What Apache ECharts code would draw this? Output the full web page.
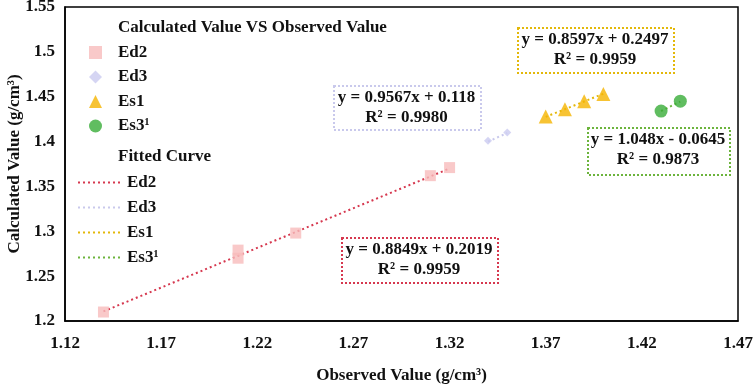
<!DOCTYPE html>
<html>
<head>
<meta charset="utf-8">
<script src="https://cdn.jsdelivr.net/npm/echarts@6/dist/echarts.min.js"></script>
<style>
  html, body { margin: 0; padding: 0; background: #fff; }
  #chart { width: 754px; height: 386px; }
</style>
</head>
<body>
<div id="chart"></div>
<script>
// observed / calculated pairs
const ed2Points = [[1.14, 1.21], [1.21, 1.27], [1.21, 1.279], [1.24, 1.298], [1.31, 1.362], [1.32, 1.371]];
const ed3Points = [[1.34, 1.401], [1.35, 1.41]];
const es1Points = [[1.37, 1.428], [1.38, 1.436], [1.39, 1.445], [1.40, 1.453]];
const es3Points = [[1.43, 1.434], [1.44, 1.445]];

// fitted line end points
const ed2Fit = [[1.14, 1.2107], [1.32, 1.370]];
const ed3Fit = [[1.34, 1.4000], [1.35, 1.4095]];
const es1Fit = [[1.37, 1.4275], [1.40, 1.4533]];
const es3Fit = [[1.43, 1.4341], [1.44, 1.4446]];

const seriesNames = ['Ed2', 'Ed3', 'Es1', 'Es3¹'];
const equations = [
    ['y = 0.8849x + 0.2019', 'R² = 0.9959'],
    ['y = 0.9567x + 0.118', 'R² = 0.9980'],
    ['y = 0.8597x + 0.2497', 'R² = 0.9959'],
    ['y = 1.048x - 0.0645', 'R² = 0.9873']
];

const serif = '"Liberation Serif", "Times New Roman", serif';
const markerColors = ['#f7bcbc', '#cacaf0', '#f5b400', '#38ac38'];
const lineColors = ['#d6384f', '#c9c9ec', '#e3b80a', '#6cb43c'];
const symbols = ['rect', 'diamond', 'triangle', 'circle'];
const symbolSizes = [11, 8, 14, 13];

const pointSets = [ed2Points, ed3Points, es1Points, es3Points];
const fitSets = [ed2Fit, ed3Fit, es1Fit, es3Fit];

// boxes for the equation labels: [left, top, width, height]
const boxes = [
    [341, 237, 156, 45],
    [333, 85, 147, 44],
    [517, 27, 156, 45],
    [587, 127, 142, 47]
];

const series = [];
pointSets.forEach((pts, i) => {
    series.push({
        name: seriesNames[i],
        type: 'scatter',
        symbol: symbols[i],
        symbolSize: symbolSizes[i],
        itemStyle: { color: markerColors[i] },
        data: pts,
        z: 3
    });
});
fitSets.forEach((pts, i) => {
    series.push({
        name: seriesNames[i] + ' fit',
        type: 'line',
        symbol: 'none',
        lineStyle: { color: lineColors[i], width: 2, type: [2, 3] },
        itemStyle: { color: lineColors[i] },
        data: pts,
        z: 2
    });
});

const graphics = [];
boxes.forEach((b, i) => {
    graphics.push({
        type: 'rect',
        left: b[0], top: b[1],
        shape: { width: b[2], height: b[3] },
        style: { fill: '#fff', stroke: lineColors[i], lineWidth: 2, lineDash: [2, 2] },
        z: 10
    });
    graphics.push({
        type: 'text',
        left: b[0], top: b[1] + 3,
        style: {
            text: equations[i].join('\n'),
            width: b[2],
            align: 'center',
            x: b[2] / 2,
            textAlign: 'center',
            font: 'bold 17px ' + serif,
            lineHeight: 20,
            fill: '#111'
        },
        z: 11
    });
});
graphics.push({
    type: 'text', left: 118, top: 19,
    style: { text: 'Calculated Value VS Observed Value', font: 'bold 17px ' + serif, fill: '#111' }
});
graphics.push({
    type: 'text', left: 118, top: 148,
    style: { text: 'Fitted Curve', font: 'bold 17px ' + serif, fill: '#111' }
});

const option = {
    animation: false,
    grid: {
        left: 65, right: 16, top: 7, bottom: 65,
        outerBoundsMode: 'none',
        show: true, borderColor: '#000', borderWidth: 1.5, backgroundColor: '#fff'
    },
    legend: [
        {
            data: seriesNames,
            orient: 'vertical',
            left: 84, top: 39,
            itemWidth: 13, itemHeight: 13, itemGap: 7.5,
            textStyle: { fontFamily: serif, fontWeight: 'bold', fontSize: 17, color: '#111', padding: [0, 0, 0, 11] }
        },
        {
            data: seriesNames.map(n => n + ' fit'),
            orient: 'vertical',
            left: 72, top: 169,
            itemWidth: 44, itemHeight: 12, itemGap: 8,
            itemStyle: { opacity: 0 },
            formatter: name => name.replace(' fit', ''),
            textStyle: { fontFamily: serif, fontWeight: 'bold', fontSize: 17, color: '#111' }
        }
    ],
    xAxis: {
        type: 'value',
        min: 1.12, max: 1.47, interval: 0.05,
        name: 'Observed Value (g/cm³)',
        nameLocation: 'middle', nameGap: 46,
        nameMoveOverlap: false,
        nameTextStyle: { fontFamily: serif, fontWeight: 'bold', fontSize: 17, color: '#111' },
        axisLine: { show: true, lineStyle: { color: '#000', width: 1.5 } },
        axisTick: { show: false },
        splitLine: { show: false },
        axisLabel: {
            margin: 14,
            fontFamily: serif, fontWeight: 'bold', fontSize: 17, color: '#111',
            formatter: v => +v.toFixed(2) + ''
        }
    },
    yAxis: {
        type: 'value',
        min: 1.2, max: 1.55, interval: 0.05,
        name: 'Calculated Value (g/cm³)',
        nameLocation: 'middle', nameGap: 42,
        nameMoveOverlap: false,
        nameTextStyle: { fontFamily: serif, fontWeight: 'bold', fontSize: 17, color: '#111' },
        axisLine: { show: true, lineStyle: { color: '#000', width: 1.5 } },
        axisTick: { show: false },
        splitLine: { show: false },
        axisLabel: {
            margin: 10,
            fontFamily: serif, fontWeight: 'bold', fontSize: 17, color: '#111',
            formatter: v => +v.toFixed(2) + ''
        }
    },
    graphic: graphics,
    series: series
};

const myChart = echarts.init(document.getElementById('chart'));
myChart.setOption(option);
</script>
</body>
</html>
